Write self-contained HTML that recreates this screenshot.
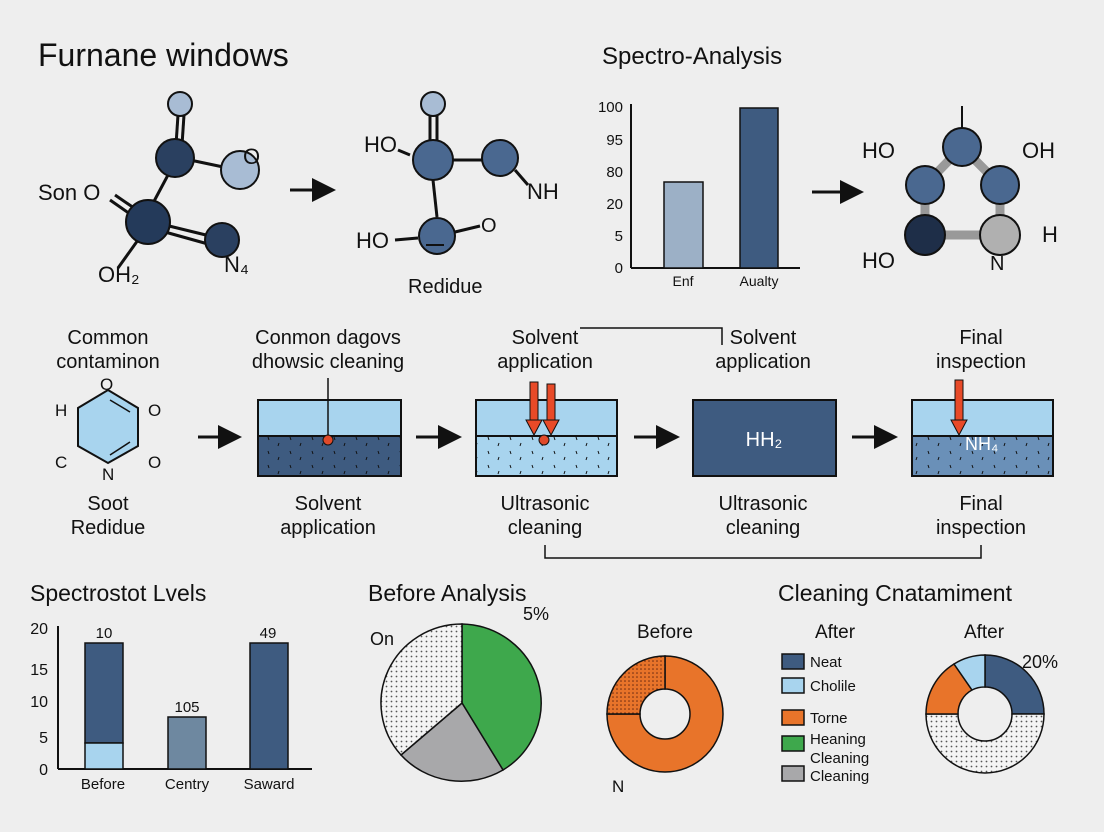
<!DOCTYPE html><html><head><meta charset="utf-8"><style>body{margin:0;background:#eeeeee}svg{display:block}text{font-family:"Liberation Sans",sans-serif;fill:#111}</style></head><body>
<svg width="1104" height="832" viewBox="0 0 1104 832" xmlns="http://www.w3.org/2000/svg">
<defs>
<pattern id="dots" width="5" height="5" patternUnits="userSpaceOnUse"><rect width="5" height="5" fill="#f4f4f4"/><circle cx="1.5" cy="1.5" r="0.9" fill="#555"/></pattern>
<pattern id="odots" width="4" height="4" patternUnits="userSpaceOnUse"><rect width="4" height="4" fill="#e8742a"/><circle cx="1" cy="1" r="0.8" fill="#6a2a10"/></pattern>
<pattern id="specks" width="22" height="14" patternUnits="userSpaceOnUse"><line x1="4" y1="3" x2="5" y2="6" stroke="#111" stroke-width="1"/><line x1="15" y1="9" x2="14" y2="12" stroke="#111" stroke-width="1"/></pattern>
<marker id="ah" markerWidth="8" markerHeight="8" refX="6" refY="4" orient="auto"><path d="M0,0L8,4L0,8z" fill="#111"/></marker>
</defs>
<rect width="1104" height="832" fill="#eeeeee"/>
<text x="38" y="66" font-size="32">Furnane windows</text>
<text x="602" y="64" font-size="24">Spectro-Analysis</text>
<!-- molecule 1 -->
<g stroke="#111" stroke-width="3" fill="none">
<line x1="178" y1="115" x2="176" y2="145"/><line x1="184" y1="115" x2="182" y2="145"/>
<line x1="190" y1="160" x2="228" y2="168"/><line x1="168" y1="175" x2="152" y2="205"/>
<line x1="165" y1="225" x2="210" y2="236"/><line x1="165" y1="232" x2="208" y2="244"/>
<line x1="138" y1="240" x2="118" y2="268"/><line x1="130" y1="214" x2="110" y2="200"/><line x1="134" y1="208" x2="115" y2="195"/>
</g>
<circle cx="180" cy="104" r="12" fill="#a8bcd4" stroke="#111" stroke-width="2"/>
<circle cx="175" cy="158" r="19" fill="#2a4060" stroke="#111" stroke-width="2"/>
<circle cx="240" cy="170" r="19" fill="#a8bcd4" stroke="#111" stroke-width="2"/>
<circle cx="148" cy="222" r="22" fill="#243a5a" stroke="#111" stroke-width="2"/>
<circle cx="222" cy="240" r="17" fill="#2a4060" stroke="#111" stroke-width="2"/>
<text x="243" y="164" font-size="22">O</text>
<text x="38" y="200" font-size="22">Son O</text>
<text x="224" y="272" font-size="22">N₄</text>
<text x="98" y="282" font-size="22">OH₂</text>
<line x1="290" y1="190" x2="330" y2="190" stroke="#111" stroke-width="3" marker-end="url(#ah)"/>
<!-- molecule 2 -->
<g stroke="#111" stroke-width="3">
<line x1="430" y1="115" x2="430" y2="142"/><line x1="437" y1="115" x2="437" y2="142"/>
<line x1="410" y1="155" x2="398" y2="150"/><line x1="452" y1="160" x2="482" y2="160"/>
<line x1="515" y1="170" x2="528" y2="185"/><line x1="433" y1="180" x2="437" y2="217"/>
<line x1="418" y1="238" x2="395" y2="240"/><line x1="455" y1="232" x2="480" y2="226"/>
</g>
<circle cx="433" cy="104" r="12" fill="#a8bcd4" stroke="#111" stroke-width="2"/>
<circle cx="433" cy="160" r="20" fill="#4a6890" stroke="#111" stroke-width="2"/>
<circle cx="500" cy="158" r="18" fill="#4a6890" stroke="#111" stroke-width="2"/>
<circle cx="437" cy="236" r="18" fill="#4a6890" stroke="#111" stroke-width="2"/>
<line x1="426" y1="245" x2="444" y2="245" stroke="#111" stroke-width="2"/>
<text x="364" y="152" font-size="22">HO</text><text x="527" y="199" font-size="22">NH</text>
<text x="356" y="248" font-size="22">HO</text><text x="481" y="232" font-size="20">O</text>
<text x="408" y="293" font-size="20">Redidue</text>
<!-- chart top -->
<line x1="631" y1="104" x2="631" y2="268" stroke="#111" stroke-width="2"/>
<line x1="631" y1="268" x2="800" y2="268" stroke="#111" stroke-width="2"/>
<g font-size="15" text-anchor="end"><text x="623" y="112">100</text><text x="623" y="145">95</text><text x="623" y="177">80</text><text x="623" y="209">20</text><text x="623" y="241">5</text><text x="623" y="273">0</text></g>
<rect x="664" y="182" width="39" height="86" fill="#9cb0c6" stroke="#111" stroke-width="1.5"/>
<rect x="740" y="108" width="38" height="160" fill="#3e5b80" stroke="#111" stroke-width="1.5"/>
<text x="683" y="286" font-size="14" text-anchor="middle">Enf</text><text x="759" y="286" font-size="14" text-anchor="middle">Aualty</text>
<line x1="812" y1="192" x2="858" y2="192" stroke="#111" stroke-width="3" marker-end="url(#ah)"/>
<!-- ring -->
<g stroke="#999" stroke-width="9"><line x1="925" y1="185" x2="962" y2="147"/><line x1="962" y1="147" x2="1000" y2="185"/><line x1="925" y1="185" x2="925" y2="235"/><line x1="1000" y1="185" x2="1000" y2="235"/><line x1="925" y1="235" x2="1000" y2="235"/></g>
<line x1="962" y1="106" x2="962" y2="130" stroke="#111" stroke-width="2"/>
<circle cx="962" cy="147" r="19" fill="#4a6890" stroke="#111" stroke-width="2"/>
<circle cx="925" cy="185" r="19" fill="#4a6890" stroke="#111" stroke-width="2"/>
<circle cx="1000" cy="185" r="19" fill="#4a6890" stroke="#111" stroke-width="2"/>
<circle cx="925" cy="235" r="20" fill="#1e2e48" stroke="#111" stroke-width="2"/>
<circle cx="1000" cy="235" r="20" fill="#b0b0b0" stroke="#111" stroke-width="2"/>
<text x="862" y="158" font-size="22">HO</text><text x="1022" y="158" font-size="22">OH</text>
<text x="862" y="268" font-size="22">HO</text><text x="990" y="270" font-size="20">N</text><text x="1042" y="242" font-size="22">H</text>
<!-- middle row -->
<g font-size="20" text-anchor="middle">
<text x="108" y="344">Common</text><text x="108" y="368">contaminon</text>
<text x="328" y="344">Conmon dagovs</text><text x="328" y="368">dhowsic cleaning</text>
<text x="545" y="344">Solvent</text><text x="545" y="368">application</text>
<text x="763" y="344">Solvent</text><text x="763" y="368">application</text>
<text x="981" y="344">Final</text><text x="981" y="368">inspection</text>
<text x="108" y="510">Soot</text><text x="108" y="534">Redidue</text>
<text x="328" y="510">Solvent</text><text x="328" y="534">application</text>
<text x="545" y="510">Ultrasonic</text><text x="545" y="534">cleaning</text>
<text x="763" y="510">Ultrasonic</text><text x="763" y="534">cleaning</text>
<text x="981" y="510">Final</text><text x="981" y="534">inspection</text>
</g>
<path d="M580,328H722V345" stroke="#111" stroke-width="1.5" fill="none"/>
<path d="M545,545V558H981V545" stroke="#111" stroke-width="1.5" fill="none"/>
<polygon points="108,390 138,408 138,446 108,463 78,446 78,408" fill="#a8d4ee" stroke="#111" stroke-width="2"/>
<line x1="130" y1="412" x2="110" y2="400" stroke="#111" stroke-width="1.5"/><line x1="130" y1="442" x2="110" y2="455" stroke="#111" stroke-width="1.5"/>
<text x="100" y="390" font-size="17">O</text><text x="55" y="416" font-size="17">H</text><text x="148" y="416" font-size="17">O</text>
<text x="55" y="468" font-size="17">C</text><text x="148" y="468" font-size="17">O</text><text x="102" y="480" font-size="17">N</text>
<g stroke="#111" stroke-width="3"><line x1="198" y1="437" x2="236" y2="437" marker-end="url(#ah)"/><line x1="416" y1="437" x2="456" y2="437" marker-end="url(#ah)"/><line x1="634" y1="437" x2="674" y2="437" marker-end="url(#ah)"/><line x1="852" y1="437" x2="892" y2="437" marker-end="url(#ah)"/></g>
<rect x="258" y="400" width="143" height="36" fill="#a8d4ee" stroke="#111" stroke-width="2"/>
<rect x="258" y="436" width="143" height="40" fill="#3e5b80" stroke="#111" stroke-width="2"/>
<rect x="259" y="437" width="141" height="38" fill="url(#specks)"/>
<line x1="328" y1="378" x2="328" y2="436" stroke="#111" stroke-width="1.5"/><circle cx="328" cy="440" r="5" fill="#e04a2a" stroke="#111"/>
<rect x="476" y="400" width="141" height="36" fill="#a8d4ee" stroke="#111" stroke-width="2"/>
<rect x="476" y="436" width="141" height="40" fill="#a8d4ee" stroke="#111" stroke-width="2"/>
<rect x="477" y="437" width="139" height="38" fill="url(#specks)"/>
<rect x="530" y="382" width="8" height="40" fill="#e84a28" stroke="#111"/><polygon points="526,420 542,420 534,435" fill="#e84a28" stroke="#111"/>
<rect x="547" y="384" width="8" height="38" fill="#e84a28" stroke="#111"/><polygon points="543,420 559,420 551,435" fill="#e84a28" stroke="#111"/>
<circle cx="544" cy="440" r="5" fill="#e04a2a" stroke="#111"/>
<rect x="693" y="400" width="143" height="76" fill="#3e5b80" stroke="#111" stroke-width="2"/>
<text x="764" y="446" font-size="20" text-anchor="middle" style="fill:#fff">HH₂</text>
<rect x="912" y="400" width="141" height="36" fill="#a8d4ee" stroke="#111" stroke-width="2"/>
<rect x="912" y="436" width="141" height="40" fill="#6a90b8" stroke="#111" stroke-width="2"/>
<rect x="913" y="437" width="139" height="38" fill="url(#specks)"/>
<rect x="955" y="380" width="8" height="42" fill="#e84a28" stroke="#111"/><polygon points="951,420 967,420 959,435" fill="#e84a28" stroke="#111"/>
<text x="965" y="450" font-size="18" style="fill:#fff">NH₄</text>
<!-- bottom -->
<text x="30" y="601" font-size="23">Spectrostot Lvels</text>
<text x="368" y="601" font-size="23">Before Analysis</text>
<text x="778" y="601" font-size="23">Cleaning Cnatamiment</text>
<line x1="58" y1="626" x2="58" y2="769" stroke="#111" stroke-width="2"/><line x1="58" y1="769" x2="312" y2="769" stroke="#111" stroke-width="2"/>
<g font-size="16" text-anchor="end"><text x="48" y="634">20</text><text x="48" y="675">15</text><text x="48" y="707">10</text><text x="48" y="743">5</text><text x="48" y="775">0</text></g>
<rect x="85" y="643" width="38" height="100" fill="#3e5b80" stroke="#111" stroke-width="1.5"/>
<rect x="85" y="743" width="38" height="26" fill="#a8d4ee" stroke="#111" stroke-width="1.5"/>
<rect x="168" y="717" width="38" height="52" fill="#6e88a0" stroke="#111" stroke-width="1.5"/>
<rect x="250" y="643" width="38" height="126" fill="#3e5b80" stroke="#111" stroke-width="1.5"/>
<g font-size="15" text-anchor="middle"><text x="104" y="638">10</text><text x="187" y="712">105</text><text x="268" y="638">49</text>
<text x="103" y="789">Before</text><text x="187" y="789">Centry</text><text x="269" y="789">Saward</text></g>
<!-- pie -->
<path d="M462,703 L462,624 A81,79 0 0 1 503,770 Z" fill="#3ea84c" stroke="#111" stroke-width="1.5"/>
<path d="M462,703 L503,770 A81,79 0 0 1 401,755 Z" fill="#a8a8aa" stroke="#111" stroke-width="1.5"/>
<path d="M462,703 L401,755 A81,79 0 0 1 462,624 Z" fill="url(#dots)" stroke="#111" stroke-width="1.5"/>
<text x="370" y="645" font-size="18">On</text><text x="523" y="620" font-size="18">5%</text>
<!-- donut 1 -->
<text x="665" y="638" font-size="19" text-anchor="middle">Before</text>
<path d="M665,656 A58,58 0 1 1 607,714 L640,714 A25,25 0 1 0 665,689 Z" fill="#e8742a" stroke="#111" stroke-width="1.5"/>
<path d="M607,714 A58,58 0 0 1 665,656 L665,689 A25,25 0 0 0 640,714 Z" fill="url(#odots)" stroke="#111" stroke-width="1.5"/>
<text x="612" y="792" font-size="17">N</text>
<!-- legend -->
<text x="835" y="638" font-size="19" text-anchor="middle">After</text><text x="984" y="638" font-size="19" text-anchor="middle">After</text>
<g stroke="#111" stroke-width="1.5"><rect x="782" y="654" width="22" height="15" fill="#3e5b80"/><rect x="782" y="678" width="22" height="15" fill="#a8d4ee"/><rect x="782" y="710" width="22" height="15" fill="#e8742a"/><rect x="782" y="736" width="22" height="15" fill="#3ea84c"/><rect x="782" y="766" width="22" height="15" fill="#a8a8aa"/></g>
<g font-size="15"><text x="810" y="667">Neat</text><text x="810" y="691">Cholile</text><text x="810" y="723">Torne</text><text x="810" y="744">Heaning</text><text x="810" y="763">Cleaning</text><text x="810" y="781">Cleaning</text></g>
<!-- donut 2 -->
<path d="M985,655 A59,59 0 0 1 1044,714 L1012,714 A27,27 0 0 0 985,687 Z" fill="#3e5b80" stroke="#111" stroke-width="1.5"/>
<path d="M1044,714 A59,59 0 0 1 926,714 L958,714 A27,27 0 0 0 1012,714 Z" fill="url(#dots)" stroke="#111" stroke-width="1.5"/>
<path d="M926,714 A59,59 0 0 1 954,664 L972,690 A27,27 0 0 0 958,714 Z" fill="#e8742a" stroke="#111" stroke-width="1.5"/>
<path d="M954,664 A59,59 0 0 1 985,655 L985,687 A27,27 0 0 0 972,690 Z" fill="#a8d4ee" stroke="#111" stroke-width="1.5"/>
<text x="1022" y="668" font-size="18">20%</text>
</svg></body></html>
